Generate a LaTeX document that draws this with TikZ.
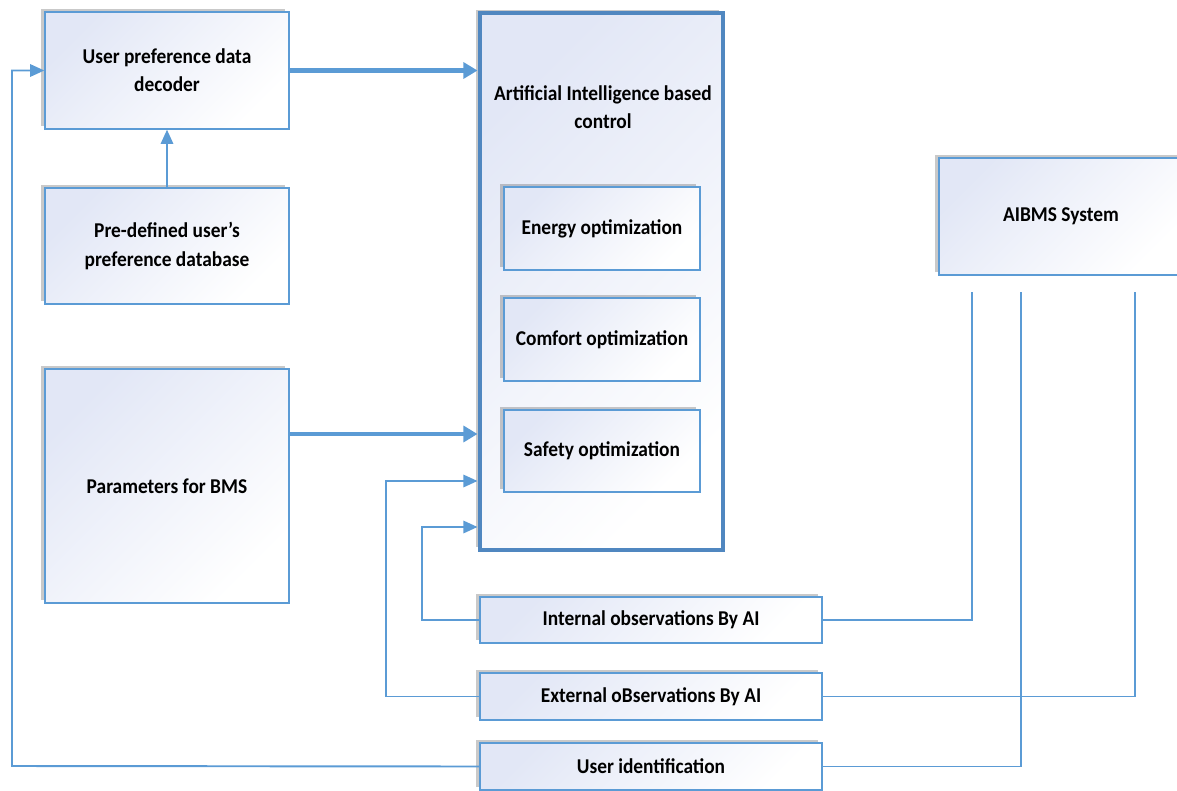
\documentclass[tikz,border=0pt]{standalone}
\usepackage{fontspec}
\setmainfont{Carlito}[FakeStretch=0.92]
\usepackage{tikz}
\usetikzlibrary{arrows.meta,shadows}
\definecolor{linecol}{RGB}{91,155,213}
\definecolor{aicol}{RGB}{80,135,192}
\definecolor{tint}{RGB}{226,231,246}

\begin{document}
\begin{tikzpicture}[x=0.02cm,y=0.02cm,
		box/.style={draw=linecol,line width=0.8pt,inner sep=0pt,align=center,
			left color=tint,right color=white,shading angle=45,
			drop shadow={shadow xshift=-0.08cm,shadow yshift=0.07cm,opacity=0.3,fill=black!70},
			font=\bfseries\fontsize{12}{16}\selectfont},
		line/.style={draw=linecol,line width=1.1pt},
		arr/.style={line,-{Triangle[length=8pt,width=7pt]}},
		bigarr/.style={draw=linecol,line width=2.3pt,-{Triangle[length=8pt,width=9pt]}}]
		\def\px{0.02cm}
		\useasboundingbox (0,0) rectangle (1177,-791);
		% left column
		\node[box,minimum width=244*\px,minimum height=117*\px] (upd) at (167,-70.5) {User preference data\\decoder};
		\node[box,minimum width=244*\px,minimum height=116*\px] (pdb) at (167,-246) {Pre-defined user's\\preference database};
		\node[box,minimum width=244*\px,minimum height=234*\px] (pbms) at (167,-486) {Parameters for BMS};
		% AI block
		\node[box,draw=aicol,line width=2.8pt,minimum width=243*\px,minimum height=537*\px] (ai) at (601.5,-281.5) {};
		\node[font=\bfseries\fontsize{12}{16}\selectfont,align=center] (aititle) at (603,-107) {Artificial Intelligence based\\control};
		\node[box,minimum width=196*\px,minimum height=83*\px] (energy) at (602,-228.5) {Energy optimization};
		\node[box,minimum width=196*\px,minimum height=83*\px] (comfort) at (602,-339.5) {Comfort optimization};
		\node[box,minimum width=196*\px,minimum height=82*\px] (safety) at (602,-451) {Safety optimization};
		% system and observations
		\node[box,minimum width=244*\px,minimum height=117*\px] (aibms) at (1061,-216.5) {AIBMS System};
		\node[box,minimum width=342*\px,minimum height=46*\px] (intobs) at (651,-620) {Internal observations By AI};
		\node[box,minimum width=342*\px,minimum height=47*\px] (extobs) at (651,-696.5) {External oBservations By AI};
		\node[box,minimum width=342*\px,minimum height=47*\px] (userid) at (651,-766.5) {User identification};
		% connectors
		\draw[bigarr] (upd.east) -- (ai.west |- upd.east);
		\coordinate (pb) at (289,-434);
		\draw[bigarr] (pb) -- (ai.west |- pb);
		\draw[arr] (pdb.north) -- (upd.south);
		\coordinate (in3) at (386,-481);
		\coordinate (in4) at (422,-527);
		\draw[arr] (extobs.west) -| (in3) -- (ai.west |- in3);
		\draw[arr] (intobs.west) -| (in4) -- (ai.west |- in4);
		\coordinate (lb) at (12,-766);
		\draw[arr] (userid.west) -- (lb) |- (upd.west);
		\coordinate (t1) at (972,-292);
		\coordinate (t2) at (1021,-292);
		\coordinate (t3) at (1135,-292);
		\draw[line] (t1) |- (intobs.east);
		\draw[line] (t2) |- (userid.east);
		\draw[line] (t3) |- (extobs.east);
		\end{tikzpicture}
\end{document}
